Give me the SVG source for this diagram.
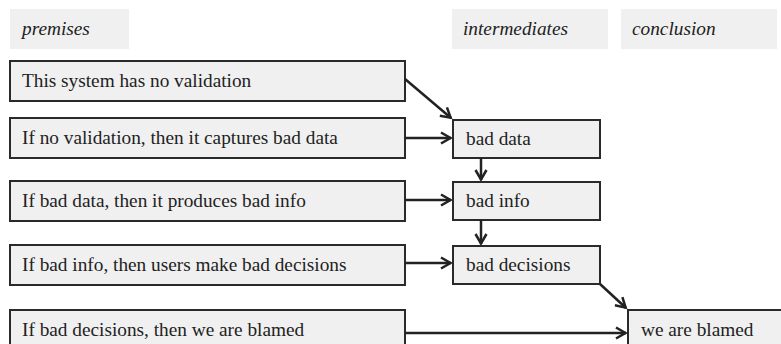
<svg xmlns="http://www.w3.org/2000/svg" width="781" height="344" viewBox="0 0 781 344">
<style>
.hdr{fill:#f0f0f0;stroke:none}
.box{fill:#f0f0f0;stroke:#2a2a2a;stroke-width:2}
.t{font-family:'Liberation Serif','DejaVu Serif',serif;font-size:19.3px;fill:#222}
.i{font-style:italic}
.c{fill:none;stroke:#222;stroke-width:2.5}
</style>
<defs>
<marker id="ah" viewBox="0 0 14 14" refX="12.5" refY="7" markerWidth="14" markerHeight="14" markerUnits="userSpaceOnUse" orient="auto">
<path d="M2.5,1.5 L12,7 L2.5,12.5" fill="none" stroke="#222" stroke-width="2.5"/>
</marker>
</defs>
<rect width="781" height="344" fill="#fff"/>
<g id="headers">
<g id="h-premises"><rect class="hdr" x="10" y="9" width="119" height="40"/><text class="t i" x="22" y="35">premises</text></g>
<g id="h-intermediates"><rect class="hdr" x="452" y="9" width="156" height="40"/><text class="t i" x="463" y="35">intermediates</text></g>
<g id="h-conclusion"><rect class="hdr" x="621" y="9" width="156" height="40"/><text class="t i" x="632" y="35">conclusion</text></g>
</g>
<g id="p1"><rect class="box" x="10" y="61" width="395" height="40"/><text class="t" x="22" y="87">This system has no validation</text></g>
<g id="p2"><rect class="box" x="10" y="118" width="395" height="40"/><text class="t" x="22" y="144">If no validation, then it captures bad data</text></g>
<g id="p3"><rect class="box" x="10" y="181" width="395" height="40"/><text class="t" x="22" y="207">If bad data, then it produces bad info</text></g>
<g id="p4"><rect class="box" x="10" y="245" width="395" height="40"/><text class="t" x="22" y="271">If bad info, then users make bad decisions</text></g>
<g id="p5"><rect class="box" x="10" y="310" width="395" height="40"/><text class="t" x="22" y="336">If bad decisions, then we are blamed</text></g>
<g id="i1"><rect class="box" x="453" y="120" width="147" height="38"/><text class="t" x="466" y="145">bad data</text></g>
<g id="i2"><rect class="box" x="453" y="182" width="147" height="38"/><text class="t" x="466" y="207">bad info</text></g>
<g id="i3"><rect class="box" x="453" y="246" width="147" height="38"/><text class="t" x="466" y="271">bad decisions</text></g>
<g id="c1"><rect class="box" x="628" y="310" width="162" height="40"/><text class="t" x="641" y="336">we are blamed</text></g>
<g id="connectors">
<line class="c" x1="405" y1="79" x2="451" y2="118" marker-end="url(#ah)"/>
<line class="c" x1="405" y1="138" x2="451" y2="138" marker-end="url(#ah)"/>
<line class="c" x1="405" y1="200" x2="451" y2="200" marker-end="url(#ah)"/>
<line class="c" x1="405" y1="263" x2="451" y2="263" marker-end="url(#ah)"/>
<line class="c" x1="405" y1="333" x2="626" y2="333" marker-end="url(#ah)"/>
<line class="c" x1="481" y1="158" x2="481" y2="180" marker-end="url(#ah)"/>
<line class="c" x1="481" y1="220" x2="481" y2="244" marker-end="url(#ah)"/>
<line class="c" x1="600" y1="284" x2="626" y2="308" marker-end="url(#ah)"/>
</g>
</svg>
